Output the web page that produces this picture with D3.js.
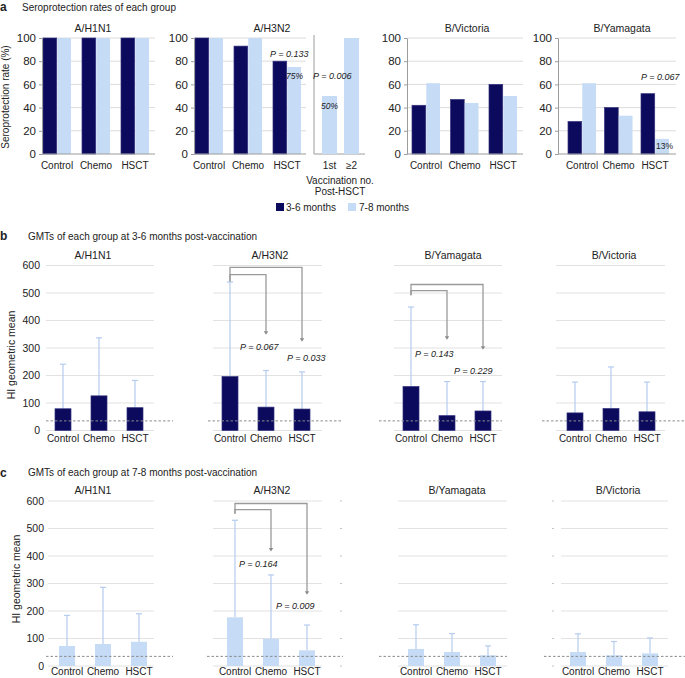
<!DOCTYPE html>
<html>
<head>
<meta charset="utf-8">
<script src="https://cdn.jsdelivr.net/npm/d3@7"></script>
<style>
  body { margin: 0; background: #fff; }
  svg { display: block; }
</style>
</head>
<body>
<script>
// ---- data ----
const groups = ["Control", "Chemo", "HSCT"]
const periods = ["3-6 months", "7-8 months"]
const seroTicks = [0, 20, 40, 60, 80, 100]
const gmtTicks = [0, 100, 200, 300, 400, 500, 600]

// seroprotection rate (%), panel a
const seroH1N1Early = [100, 100, 100]
const seroH1N1Late = [100, 100, 100]
const seroH3N2Early = [100, 93, 80]
const seroH3N2Late = [100, 100, 75]
const seroBVicEarly = [42, 47, 60]
const seroBVicLate = [61, 44, 50]
const seroBYamEarly = [28, 40, 52]
const seroBYamLate = [61, 33, 13]
const vaccNo = ["1st", "≥2"]
const seroH3N2Vacc = [50, 100]

// GMTs 3-6 months, panel b (mean, upper error)
const gmtEarlyH1N1 = [79, 126, 83]
const gmtEarlyH1N1Err = [241, 337, 182]
const gmtEarlyH3N2 = [196, 85, 78]
const gmtEarlyH3N2Err = [540, 218, 213]
const gmtEarlyBYam = [160, 54, 71]
const gmtEarlyBYamErr = [449, 178, 178]
const gmtEarlyBVic = [64, 80, 68]
const gmtEarlyBVicErr = [176, 231, 176]

// GMTs 7-8 months, panel c
const gmtLateH1N1 = [73, 80, 88]
const gmtLateH1N1Err = [184, 286, 190]
const gmtLateH3N2 = [177, 99, 57]
const gmtLateH3N2Err = [530, 331, 149]
const gmtLateBYam = [62, 51, 39]
const gmtLateBYamErr = [150, 118, 73]
const gmtLateBVic = [51, 39, 46]
const gmtLateBVicErr = [117, 89, 102]

const protectLevel = 35

// ---- drawing ----
const dark = "#0c0a5c", light = "#c6dbf5", errCol = "#b5cbef"
const gridCol = "#dcdcdc", axisCol = "#9c9c9c", textCol = "#222"

const svg = d3.select("body").append("svg")
    .attr("width", 685).attr("height", 678)
    .style("font-family", "'Liberation Sans', Arial, Helvetica, sans-serif")

function txt(x, y, s, size, opts = {}) {
    return svg.append("text").attr("x", x).attr("y", y)
        .attr("font-size", size).attr("fill", textCol)
        .attr("text-anchor", opts.anchor || "start")
        .attr("font-weight", opts.weight || null)
        .attr("font-style", opts.italic ? "italic" : null)
        .text(s)
}

// panel headers
txt(0, 11, "a", 12, { weight: "bold" })
txt(22, 11, "Seroprotection rates of each group", 10)
txt(0, 240, "b", 12, { weight: "bold" })
txt(28, 240, "GMTs of each group at 3-6 months post-vaccination", 10)
txt(0, 477, "c", 12, { weight: "bold" })
txt(28, 476, "GMTs of each group at 7-8 months post-vaccination", 10)

// ---- panel a ----
const ySero = d3.scaleLinear().domain([0, 100]).range([154, 38])
const pairW = 28

function seroChart(o) {
    const g = svg.append("g")
    g.selectAll("line.grid").data(seroTicks.slice(1)).join("line")
        .attr("x1", o.axisX).attr("x2", o.gridEnd)
        .attr("y1", ySero).attr("y2", ySero)
        .attr("stroke", gridCol)

    const step = (o.band[1] - o.band[0] - pairW) / 2
    const x = d3.scaleBand().domain(groups).range(o.band).paddingInner(1 - pairW / step)
    const xs = d3.scaleBand().domain(periods).range([0, x.bandwidth()]).paddingInner(0.04)

    const rows = groups.map((grp, i) => [
        { grp, p: periods[0], v: o.early[i] },
        { grp, p: periods[1], v: o.late[i] }
    ]).flat()

    g.selectAll("rect").data(rows).join("rect")
        .attr("x", d => x(d.grp) + xs(d.p))
        .attr("width", xs.bandwidth())
        .attr("y", d => ySero(d.v))
        .attr("height", d => ySero(0) - ySero(d.v))
        .attr("fill", d => d.p === periods[0] ? dark : light)
        .attr("stroke", d => d.p === periods[0] ? "#34327e" : "none")
        .attr("stroke-width", 0.7)

    const ax = g.append("g").attr("transform", `translate(${o.axisX},0)`)
        .call(d3.axisLeft(ySero).tickValues(seroTicks).tickSize(3).tickSizeOuter(0).tickPadding(3))
    ax.select(".domain").attr("stroke", axisCol)
    ax.selectAll(".tick line").attr("stroke", axisCol)
    ax.selectAll(".tick text").attr("font-size", 11.5).attr("fill", textCol).attr("font-family", null)

    g.append("line").attr("x1", o.axisX).attr("x2", o.gridEnd)
        .attr("y1", ySero(0)).attr("y2", ySero(0)).attr("stroke", axisCol)

    g.selectAll("text.xl").data(groups).join("text").attr("class", "xl")
        .attr("x", d => x(d) + x.bandwidth() / 2).attr("y", 169)
        .attr("text-anchor", "middle").attr("font-size", 10).attr("fill", textCol)
        .text(d => d)

    txt(o.titleX, 32, o.title, 10.5, { anchor: "middle" })
    return x
}

seroChart({ title: "A/H1N1", axisX: 42, gridEnd: 155, band: [43, 149], titleX: 93,
    early: seroH1N1Early, late: seroH1N1Late })
seroChart({ title: "A/H3N2", axisX: 194, gridEnd: 306, band: [195, 301], titleX: 272,
    early: seroH3N2Early, late: seroH3N2Late })
seroChart({ title: "B/Victoria", axisX: 407, gridEnd: 523, band: [412, 517], titleX: 467,
    early: seroBVicEarly, late: seroBVicLate })
seroChart({ title: "B/Yamagata", axisX: 558, gridEnd: 676, band: [568, 669], titleX: 622,
    early: seroBYamEarly, late: seroBYamLate })

// A/H3N2 by vaccination number post-HSCT
svg.append("line").attr("x1", 314).attr("x2", 314).attr("y1", ySero(100) - 3).attr("y2", ySero(0))
    .attr("stroke", axisCol)
svg.append("line").attr("x1", 314).attr("x2", 365).attr("y1", ySero(0)).attr("y2", ySero(0))
    .attr("stroke", axisCol)
const xv = d3.scaleBand().domain(vaccNo).range([322, 359]).paddingInner(7 / 22)
svg.selectAll("rect.vacc").data(vaccNo).join("rect").attr("class", "vacc")
    .attr("x", d => xv(d)).attr("width", xv.bandwidth())
    .attr("y", (d, i) => ySero(seroH3N2Vacc[i]))
    .attr("height", (d, i) => ySero(0) - ySero(seroH3N2Vacc[i]))
    .attr("fill", light)
svg.selectAll("text.vl").data(vaccNo).join("text").attr("class", "vl")
    .attr("x", d => xv(d) + xv.bandwidth() / 2).attr("y", 169)
    .attr("text-anchor", "middle").attr("font-size", 10).attr("fill", textCol)
    .text(d => d)
txt(340, 184, "Vaccination no.", 10, { anchor: "middle" })
txt(340, 195, "Post-HSCT", 10, { anchor: "middle" })

// annotations panel a
txt(270, ySero(86) + 3, "P = 0.133", 9, { italic: true })
txt(286, ySero(67) + 3, "75%", 8.5, { italic: true })
txt(313, ySero(67) + 3, "P = 0.006", 9, { italic: true })
txt(321, ySero(41) + 3, "50%", 8.5, { italic: true })
txt(641, ySero(66) + 3, "P = 0.067", 9, { italic: true })
txt(656, ySero(7) + 3, "13%", 8.5)

// y label a
svg.append("text").attr("transform", "translate(9,97) rotate(-90)")
    .attr("text-anchor", "middle").attr("font-size", 10).attr("fill", textCol)
    .text("Seroprotection rate (%)")

// legend
svg.append("rect").attr("x", 276).attr("y", 203).attr("width", 8).attr("height", 8).attr("fill", dark)
txt(286, 211, periods[0], 10)
svg.append("rect").attr("x", 348).attr("y", 203).attr("width", 8).attr("height", 8).attr("fill", light)
txt(359, 211, periods[1], 10)

// ---- panels b and c ----
function gmtChart(o) {
    const y = d3.scaleLinear().domain([0, 600]).range([o.y0, o.y0 - 165])
    const x = d3.scaleBand().domain(groups).range([o.bx, o.bx + 88]).paddingInner(20 / 36)
    const g = svg.append("g")
    const cx = d => x(d) + x.bandwidth() / 2

    g.selectAll("line.grid").data(gmtTicks).join("line")
        .attr("x1", o.g0).attr("x2", o.g1).attr("y1", y).attr("y2", y)
        .attr("stroke", "#e2e2e2")

    // error bars
    g.selectAll("line.err").data(groups).join("line")
        .attr("x1", cx).attr("x2", cx)
        .attr("y1", (d, i) => y(o.vals[i])).attr("y2", (d, i) => y(o.errs[i]))
        .attr("stroke", errCol).attr("stroke-width", 1.2)
    g.selectAll("line.cap").data(groups).join("line")
        .attr("x1", d => cx(d) - 3).attr("x2", d => cx(d) + 3)
        .attr("y1", (d, i) => y(o.errs[i])).attr("y2", (d, i) => y(o.errs[i]))
        .attr("stroke", errCol).attr("stroke-width", 1.2)

    g.selectAll("rect").data(groups).join("rect")
        .attr("x", d => x(d)).attr("width", x.bandwidth())
        .attr("y", (d, i) => y(o.vals[i]))
        .attr("height", (d, i) => y(0) - y(o.vals[i]))
        .attr("fill", o.color)
        .attr("stroke", o.color === dark ? "#34327e" : "none").attr("stroke-width", 0.7)

    g.append("line").attr("x1", o.dash[0]).attr("x2", o.dash[1])
        .attr("y1", y(protectLevel)).attr("y2", y(protectLevel))
        .attr("stroke", "#8c8c8c").attr("stroke-dasharray", "2.5,2")

    g.selectAll("text.xl").data(groups).join("text")
        .attr("x", cx).attr("y", o.labelY)
        .attr("text-anchor", "middle").attr("font-size", 10).attr("fill", textCol)
        .text(d => d)

    txt(o.titleX, o.y0 - 172, o.title, 10.5, { anchor: "middle" })

    if (o.tickX) {
        const ax = g.append("g").attr("transform", `translate(${o.tickX},0)`)
            .call(d3.axisLeft(y).tickValues(gmtTicks).tickSize(0).tickPadding(0))
        ax.select(".domain").remove()
        ax.selectAll(".tick text").attr("font-size", 10.5).attr("fill", textCol).attr("font-family", null)
    }

    if (o.brackets) {
        const left = cx(groups[0])
        o.brackets.forEach(b => {
            const xr = cx(b.to)
            g.append("path")
                .attr("d", `M${left},${y(o.bracketBase)}V${y(b.top)}H${xr}V${y(b.end) - 3}`)
                .attr("fill", "none").attr("stroke", "#9a9a9a").attr("stroke-width", 1.3)
            g.append("path")
                .attr("d", `M${xr - 2.2},${y(b.end) - 3.5}L${xr + 2.2},${y(b.end) - 3.5}L${xr},${y(b.end)}Z`)
                .attr("fill", "#8a8a8a")
            txt(cx(b.to) + b.dx, y(b.pv) + 3, b.p, 9, { italic: true })
        })
    }
    return y
}

// panel b
gmtChart({ title: "A/H1N1", titleX: 93, y0: 430.5, bx: 55, g0: 46, g1: 154, dash: [46, 173],
    labelY: 442, tickX: 40, vals: gmtEarlyH1N1, errs: gmtEarlyH1N1Err, color: dark })
gmtChart({ title: "A/H3N2", titleX: 270, y0: 430.5, bx: 222, g0: 213, g1: 322, dash: [208, 343],
    labelY: 442, vals: gmtEarlyH3N2, errs: gmtEarlyH3N2Err, color: dark,
    bracketBase: 542,
    brackets: [
        { to: "Chemo", top: 567, end: 348, p: "P = 0.067", pv: 304, dx: -26 },
        { to: "HSCT", top: 593, end: 323, p: "P = 0.033", pv: 264, dx: -15 }
    ] })
gmtChart({ title: "B/Yamagata", titleX: 453, y0: 430.5, bx: 403, g0: 394, g1: 502, dash: [379, 502],
    labelY: 442, vals: gmtEarlyBYam, errs: gmtEarlyBYamErr, color: dark,
    bracketBase: 492,
    brackets: [
        { to: "Chemo", top: 509, end: 330, p: "P = 0.143", pv: 279, dx: -32 },
        { to: "HSCT", top: 531, end: 294, p: "P = 0.229", pv: 217, dx: -29 }
    ] })
gmtChart({ title: "B/Victoria", titleX: 614, y0: 430.5, bx: 567, g0: 556, g1: 665, dash: [542, 685],
    labelY: 442, vals: gmtEarlyBVic, errs: gmtEarlyBVicErr, color: dark })

// panel c
const yc = gmtChart({ title: "A/H1N1", titleX: 93, y0: 666, bx: 59, g0: 48, g1: 154, dash: [46, 173],
    labelY: 675, tickX: 44, vals: gmtLateH1N1, errs: gmtLateH1N1Err, color: light })
gmtChart({ title: "A/H3N2", titleX: 272, y0: 666, bx: 227, g0: 213, g1: 322, dash: [207, 343],
    labelY: 675, vals: gmtLateH3N2, errs: gmtLateH3N2Err, color: light,
    bracketBase: 554,
    brackets: [
        { to: "Chemo", top: 569, end: 416, p: "P = 0.164", pv: 372, dx: -32 },
        { to: "HSCT", top: 591, end: 259, p: "P = 0.009", pv: 219, dx: -31 }
    ] })
gmtChart({ title: "B/Yamagata", titleX: 457, y0: 666, bx: 408, g0: 398, g1: 507, dash: [379, 507],
    labelY: 675, vals: gmtLateBYam, errs: gmtLateBYamErr, color: light })
gmtChart({ title: "B/Victoria", titleX: 618, y0: 666, bx: 570, g0: 561, g1: 668, dash: [544, 685],
    labelY: 675, vals: gmtLateBVic, errs: gmtLateBVicErr, color: light })

// faint tick marks of the hidden axes in panel c
;[341, 553].forEach(tx => {
    svg.selectAll(null).data(gmtTicks).join("line")
        .attr("x1", tx - 1).attr("x2", tx + 1).attr("y1", yc).attr("y2", yc)
        .attr("stroke", "#c4c4c4")
})

// y labels b, c
svg.append("text").attr("transform", "translate(15,355) rotate(-90)")
    .attr("text-anchor", "middle").attr("font-size", 10.5).attr("fill", textCol)
    .text("HI geometric mean")
svg.append("text").attr("transform", "translate(20,579) rotate(-90)")
    .attr("text-anchor", "middle").attr("font-size", 10.5).attr("fill", textCol)
    .text("HI geometric mean")
</script>
</body>
</html>
